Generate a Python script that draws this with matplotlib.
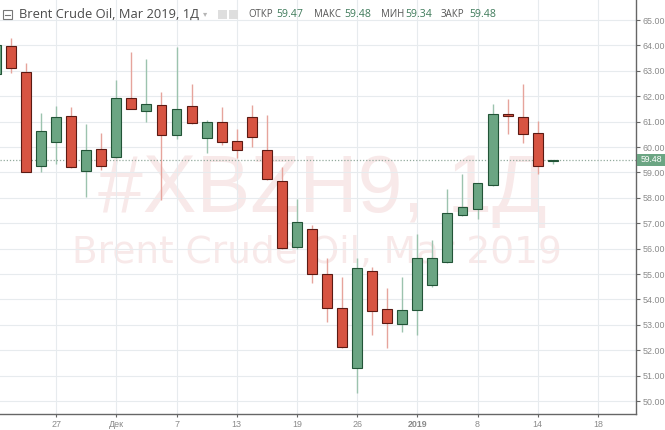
# Brent Crude Oil, Mar 2019 - daily candles (TradingView style)

import numpy as np
import matplotlib.pyplot as plt
from matplotlib.patches import Rectangle

# daily OHLC
opens = [62.87, 63.98, 62.94, 59.25, 60.21, 61.22, 59.07, 59.92, 59.62, 61.92,
         61.42, 61.64, 60.47, 61.63, 60.34, 61.00, 60.24, 61.19, 59.88, 58.66,
         56.05, 56.76, 55.00, 53.65, 51.31, 55.13, 53.62, 53.03, 53.58, 54.57,
         55.48, 57.32, 57.55, 58.50, 61.29, 61.19, 60.56, 59.47]
highs = [64.30, 64.28, 63.30, 61.35, 61.61, 61.59, 60.89, 60.54, 62.64, 63.75,
         63.45, 62.18, 63.95, 62.47, 61.05, 61.56, 60.70, 61.65, 61.26, 59.22,
         57.94, 56.93, 55.62, 54.89, 55.62, 55.29, 54.46, 54.87, 56.56, 56.34,
         58.35, 58.94, 58.60, 61.69, 61.88, 62.48, 61.02, 59.48]
lows = [62.60, 62.90, 59.00, 59.03, 59.33, 59.16, 58.03, 59.09, 59.55, 61.48,
        61.00, 57.90, 60.30, 60.90, 59.75, 60.08, 59.56, 60.01, 58.70, 55.98,
        55.98, 54.63, 53.12, 52.10, 50.33, 52.60, 52.07, 52.73, 52.60, 54.50,
        55.42, 57.30, 57.15, 58.48, 60.51, 60.15, 58.94, 59.34]
closes = [64.02, 63.10, 59.03, 60.63, 61.17, 59.22, 59.88, 59.26, 61.92, 61.50,
          61.70, 60.47, 61.48, 60.93, 61.00, 60.21, 59.88, 60.41, 58.73, 56.01,
          57.06, 55.00, 53.67, 52.14, 55.22, 53.56, 53.08, 53.58, 55.62, 55.64,
          57.41, 57.65, 58.59, 61.29, 61.23, 60.51, 59.25, 59.48]

date_ticks = [4, 8, 12, 16, 20, 24, 28, 32, 36, 40]
date_labels = ["27", "Дек", "7", "13", "19", "26", "2019", "8", "14", "18"]
price_ticks = list(range(50, 66))
last_price = 59.48

up, up_edge, up_wick = "#6ba583", "#225437", "#9cc3ae"
down, down_edge, down_wick = "#d75442", "#5b1a13", "#e6a49c"
wm_color = "#f8e9e9"

fig = plt.figure(figsize=(6.65, 4.3), dpi=100)
ax = fig.add_axes([0, 16 / 430, 636 / 665, 414 / 430])
ax.patch.set_alpha(0)

x = np.arange(len(opens))
o = np.array(opens)
c = np.array(closes)
rising = c >= o

# wicks then bodies
ax.vlines(x, lows, highs, colors=np.where(rising, up_wick, down_wick), lw=1, zorder=2)
ax.bar(x, np.abs(c - o), bottom=np.minimum(o, c), width=0.66,
       color=np.where(rising, up, down), edgecolor=np.where(rising, up_edge, down_edge),
       linewidth=0.8, zorder=3)

ax.axhline(last_price, color="#93aa9d", lw=0.9, ls=(0, (1, 1.5)), zorder=2.5)

ax.set_xlim(0.27, 42.53)
ax.set_ylim(49.49, 65.79)
ax.set_xticks(date_ticks)
ax.set_xticklabels(date_labels, family="Liberation Sans")
ax.set_yticks(price_ticks)
ax.set_yticklabels([f"{p:.2f}" for p in price_ticks], family="Liberation Sans")
ax.get_xticklabels()[6].set_fontweight("bold")
ax.get_xticklabels()[6].set_color("#666")

ax.yaxis.tick_right()
ax.tick_params(axis="y", length=3, width=0.8, color="#666", pad=1.5,
               labelsize=6.4, labelcolor="#8a8a8a")
ax.tick_params(axis="x", length=2.5, width=0.8, color="#666", pad=1.5,
               labelsize=6.4, labelcolor="#8a8a8a")
for s in ["top", "left"]:
    ax.spines[s].set_visible(False)
for s in ["right", "bottom"]:
    ax.spines[s].set_color("#666")
    ax.spines[s].set_linewidth(1)

ax.set_axisbelow(True)
ax.grid(True, color="#e7ebee", lw=0.8)

# watermark, behind the axes
fig.text(322 / 665, (430 - 212) / 430, "#XBZH9, 1Д", ha="center", va="baseline",
         fontsize=58, color=wm_color, family="Liberation Sans", zorder=-1)
fig.text(317 / 665, (430 - 263) / 430, "Brent Crude Oil, Mar 2019", ha="center",
         va="baseline", fontsize=27, color=wm_color, family="DejaVu Sans", zorder=-1)


# header
def px(xp, yp):
    return xp / 665, (430 - yp) / 430


fig.patches.append(Rectangle(px(3, 19), 9 / 665, 9 / 430, transform=fig.transFigure,
                             fill=False, edgecolor="#777", lw=0.8))
fig.lines.append(plt.Line2D([5.5 / 665, 9.5 / 665], [(430 - 14.5) / 430] * 2,
                            transform=fig.transFigure, color="#777", lw=0.8))
fig.text(*px(19, 14), "Brent Crude Oil, Mar 2019, 1Д", va="center", fontsize=9.3,
         color="#4a4a4a", family="Open Sans")
fig.text(*px(203, 14), "▾", va="center", fontsize=6, color="#b5b5b5", family="DejaVu Sans")
for bx in [218, 229]:
    fig.patches.append(Rectangle(px(bx, 19), 9 / 665, 9 / 430, transform=fig.transFigure,
                                 color="#dedede", lw=0))
header = [("ОТКР", 248, "59.47", 276), ("МАКС", 314, "59.48", 344),
          ("МИН", 381, "59.34", 405), ("ЗАКР", 441, "59.48", 469)]
for lab, lx, val, vx in header:
    fig.text(*px(lx, 14.5), lab, va="center", fontsize=6.9, color="#555", family="Open Sans")
    fig.text(*px(vx, 14.5), val, va="center", fontsize=7.6, color="#3e7a5a", family="Open Sans")

# last price tag on the axis
fig.patches.append(Rectangle(px(637, 166), 28 / 665, 12 / 430, transform=fig.transFigure,
                             color=up, lw=0))
fig.text(*px(651, 160), f"{last_price:.2f}", ha="center", va="center", fontsize=6.2,
         color="white", family="Liberation Sans")

plt.savefig("out.png", dpi=100)
